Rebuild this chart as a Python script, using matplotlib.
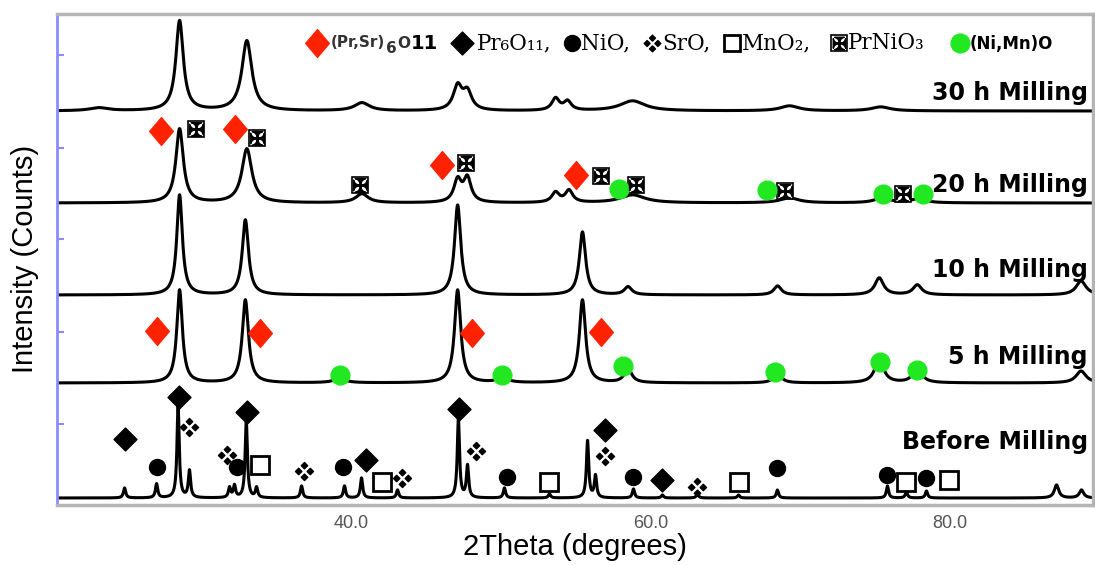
import numpy as np
import matplotlib.pyplot as plt
from matplotlib.path import Path

plt.rcParams['font.family'] = ['Liberation Sans', 'DejaVu Sans']

W, H = 1095, 565

# ---------------- data ----------------
# each pattern: vertical offset, then peaks (2theta deg, height, fwhm deg)
off_30h = 394
pos_30h = [23.1, 28.5, 33.0, 40.7, 47.1, 47.75, 53.65, 54.45, 58.8, 69.3, 75.4]
hgt_30h = [3, 90, 70, 8, 24, 18, 12, 9, 10, 5, 4]
fw_30h = [1.5, 0.6, 0.8, 1.2, 0.7, 0.7, 0.6, 0.6, 2.0, 1.5, 1.5]

off_20h = 302
pos_20h = [28.5, 33.0, 40.7, 47.1, 47.75, 53.65, 54.55, 58.8, 69.3, 75.5, 77.9]
hgt_20h = [74, 54, 9, 22, 24, 10, 12, 8, 5, 5, 4]
fw_20h = [0.6, 0.8, 1.0, 0.6, 0.6, 0.6, 0.6, 2.0, 1.5, 1.2, 1.2]

off_10h = 210
pos_10h = [28.5, 32.9, 47.1, 55.45, 58.5, 68.5, 75.3, 77.85, 88.8]
hgt_10h = [100, 75, 90, 63, 8, 9, 17, 10, 14]
fw_10h = [0.45, 0.5, 0.5, 0.5, 0.6, 0.6, 0.7, 0.7, 0.8]

off_5h = 122
pos_5h = [28.5, 32.9, 39.2, 47.1, 50.1, 55.45, 58.5, 68.5, 75.3, 77.85, 88.8]
hgt_5h = [93, 83, 4, 93, 4, 83, 14, 10, 24, 15, 12]
fw_5h = [0.45, 0.5, 1.0, 0.5, 1.0, 0.5, 0.6, 0.6, 0.7, 0.7, 0.8]

off_0h = 7
pos_0h = [24.82, 26.96, 28.40, 29.16, 31.84, 32.17, 32.96, 33.65, 36.66, 39.53,
          40.67, 43.08, 47.15, 47.76, 50.23, 53.24, 55.79, 56.32, 58.86, 60.80,
          63.14, 65.89, 68.49, 75.85, 77.12, 78.46, 87.16, 88.83]
hgt_0h = [10, 14, 92, 27, 10, 12, 77, 10, 12, 12,
          20, 8, 79, 32, 10, 4, 57, 22, 9, 3,
          4, 3, 8, 12, 6, 7, 13, 8]
fw_0h = [0.18] * 26 + [0.35, 0.35]

labels = ['30 h Milling', '20 h Milling', '10 h Milling', '5 h Milling', 'Before Milling']
label_y = [412, 320, 235, 148, 63]

# phase marks (2theta, plot height)
psr_x = [27.29, 32.24, 46.02, 55.05, 26.96, 33.91, 48.03, 56.66]
psr_y = [374, 376, 340, 330, 174, 172, 172, 173]
prnio3_x = [29.57, 33.65, 40.54, 47.63, 56.72, 59.00, 69.03, 76.86]
prnio3_y = [376, 367, 320, 342, 329, 320, 314, 311]
nimno_x = [57.86, 67.76, 75.52, 78.26, 39.20, 50.10, 58.13, 68.36, 75.38, 77.86]
nimno_y = [316, 315, 311, 311, 130, 130, 139, 133, 143, 135]
pr6o11_x = [24.82, 28.49, 33.04, 40.94, 47.22, 56.99, 60.80]
pr6o11_y = [66, 108, 93, 45, 96, 75, 25]
sro_x = [29.16, 31.64, 36.79, 43.41, 48.36, 56.99, 63.14]
sro_y = [78, 50, 34, 27, 54, 49, 18]
nio_x = [27.02, 32.31, 39.40, 50.37, 58.86, 68.49, 75.85, 78.46]
nio_y = [38, 38, 38, 28, 28, 37, 30, 27]
mno2_x = [33.85, 42.01, 53.24, 65.89, 77.12, 80.0]
mno2_y = [40, 23, 23, 23, 23, 25]


def pattern(x, off, pos, hgt, fw):
    y = np.full_like(x, float(off))
    for p, h, w in zip(pos, hgt, fw):
        y += h / (1 + ((x - p) / (w / 2)) ** 2)
    return y


def diamond_path(w):
    return Path([(0, 1), (w, 0), (0, -1), (-w, 0), (0, 1)],
                [Path.MOVETO, Path.LINETO, Path.LINETO, Path.LINETO, Path.CLOSEPOLY])


red_diamond = diamond_path(0.85)
black_diamond = diamond_path(1.0)
verts, codes = [], []
for cx, cy in [(0, 1), (1, 0), (0, -1), (-1, 0)]:
    d = 0.55
    verts += [(cx, cy + d), (cx + d, cy), (cx, cy - d), (cx - d, cy), (cx, cy + d)]
    codes += [Path.MOVETO, Path.LINETO, Path.LINETO, Path.LINETO, Path.CLOSEPOLY]
four_diamonds = Path(verts, codes)

RED = '#ff2200'
GREEN = '#22e822'

fig = plt.figure(figsize=(W / 100, H / 100), dpi=100)
ax = fig.add_axes([57 / W, (H - 505) / H, (1093 - 57) / W, (505 - 14) / H])

tt = np.arange(20.0, 90.0, 0.01)
for off, pos, hgt, fw in [(off_30h, pos_30h, hgt_30h, fw_30h),
                          (off_20h, pos_20h, hgt_20h, fw_20h),
                          (off_10h, pos_10h, hgt_10h, fw_10h),
                          (off_5h, pos_5h, hgt_5h, fw_5h),
                          (off_0h, pos_0h, hgt_0h, fw_0h)]:
    ax.plot(tt, pattern(tt, off, pos, hgt, fw), color='black', lw=2.2)

for txt, y in zip(labels, label_y):
    ax.text(89.25, y, txt, ha='right', va='center', fontsize=17, fontweight='bold',
            family='DejaVu Sans')


def mark_prnio3(x, y, ms=12):
    ax.plot(x, y, 's', ms=ms, mfc='white', mec='black', mew=1.2, ls='none', zorder=5)
    ax.plot(x, y, marker='$✠$', ms=ms - 2, color='black', ls='none', zorder=6)


ax.plot(psr_x, psr_y, marker=red_diamond, ms=20, color=RED, ls='none', zorder=5)
mark_prnio3(prnio3_x, prnio3_y)
ax.plot(nimno_x, nimno_y, 'o', ms=13.5, color=GREEN, ls='none', zorder=5)
ax.plot(pr6o11_x, pr6o11_y, marker=black_diamond, ms=16.5, color='black', ls='none', zorder=5)
ax.plot(sro_x, sro_y, marker=four_diamonds, ms=13, color='black', ls='none', zorder=5)
ax.plot(nio_x, nio_y, 'o', ms=11.5, color='black', ls='none', zorder=5)
ax.plot(mno2_x, mno2_y, 's', ms=12.5, mfc='white', mec='black', mew=2, ls='none', zorder=5)

# legend row
ly = 462
ax.plot([37.66], [ly], marker=red_diamond, ms=20, color=RED, ls='none')
ax.plot([47.42], [ly], marker=black_diamond, ms=16.5, color='black', ls='none')
ax.plot([54.78], [ly], 'o', ms=11.5, color='black', ls='none')
ax.plot([60.13], [ly], marker=four_diamonds, ms=12, color='black', ls='none')
ax.plot([65.48], [ly], 's', ms=12, mfc='white', mec='black', mew=2, ls='none')
mark_prnio3([72.6], [ly], ms=11)
ax.plot([80.67], [ly], 'o', ms=13.5, color=GREEN, ls='none')

lb = 462 - 6
bold = dict(family='DejaVu Sans', fontweight='bold', va='bottom', ha='left')
t1 = ax.text(38.6, lb - 1, '(Pr,Sr)', fontsize=11, color='#333333', **bold)
t2 = ax.annotate('6', xy=(1, 0), xycoords=t1, xytext=(0.5, -4), textcoords='offset points',
                 fontsize=11, color='#333333', **bold)
t3 = ax.annotate('O', xy=(1, 0), xycoords=t2, xytext=(0.5, 3), textcoords='offset points',
                 fontsize=11, color='#333333', **bold)
ax.annotate('11', xy=(1, 0), xycoords=t3, xytext=(0.5, -1), textcoords='offset points',
            fontsize=14, **bold)
serif = dict(fontsize=15.5, family='DejaVu Serif', va='baseline')
ax.text(48.36, lb, 'Pr₆O₁₁,', **serif)
ax.text(55.38, lb, 'NiO,', **serif)
ax.text(60.80, lb, 'SrO,', **serif)
ax.text(66.09, lb, 'MnO₂,', **serif)
ax.text(73.2, lb, 'PrNiO₃', **serif)
ax.text(81.34, lb, '(Ni,Mn)O', fontsize=12, fontweight='bold', family='DejaVu Sans', va='baseline')

ax.set_xlim(20.3, 89.6)
ax.set_ylim(0, 491)
ax.set_xticks([40, 60, 80])
ax.set_xticklabels(['40.0', '60.0', '80.0'])
ax.tick_params(axis='x', length=0, labelsize=13, labelcolor='#555555', pad=7)
ax.set_yticks([81, 173, 266, 357, 450])
ax.set_yticklabels([])
ax.tick_params(axis='y', direction='in', length=5, width=1.5, color='#8c8cff')
for s in ['top', 'right', 'bottom']:
    ax.spines[s].set_color('#b4b4b4')
    ax.spines[s].set_linewidth(2.5)
ax.spines['left'].set_color('#8c8cff')
ax.spines['left'].set_linewidth(2)

fig.text(25 / W, 1 - 259 / H, 'Intensity (Counts)', rotation=90, ha='center', va='center', fontsize=21)
fig.text(575 / W, 1 - 547 / H, '2Theta (degrees)', ha='center', va='center', fontsize=21)

fig.savefig('out.png', dpi=100)
